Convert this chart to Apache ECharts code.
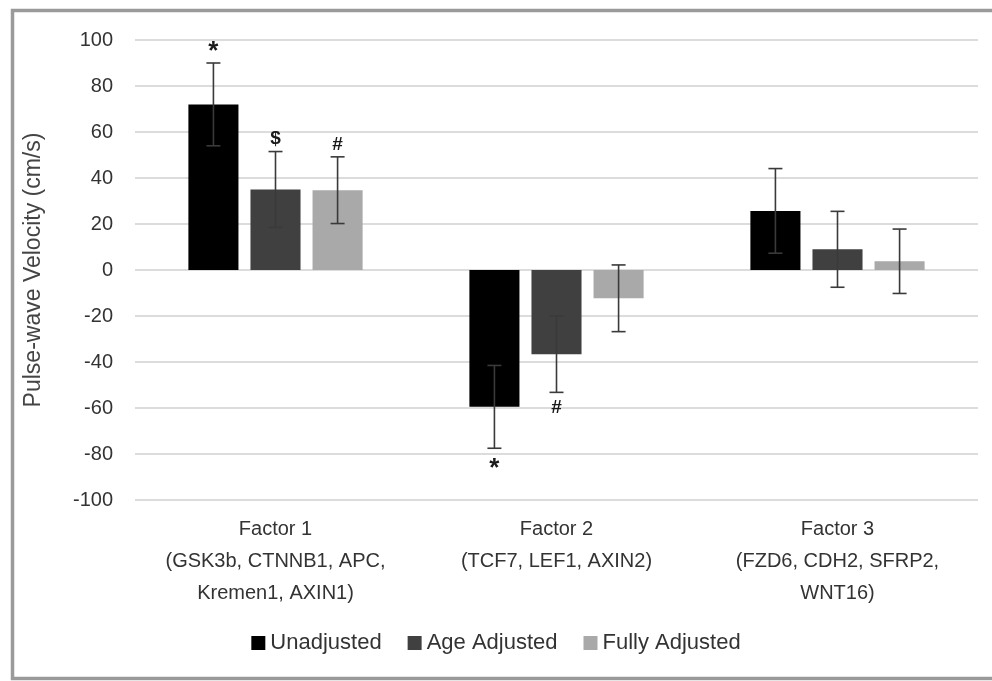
<!DOCTYPE html>
<html>
<head>
<meta charset="utf-8">
<script src="https://cdn.jsdelivr.net/npm/echarts@6/dist/echarts.min.js"></script>
<style>
  html, body { margin: 0; padding: 0; background: #fff; }
  #main { width: 992px; height: 681px; }
</style>
</head>
<body>
<div id="main"></div>
<script>
var categories = [
  'Factor 1\n(GSK3b, CTNNB1, APC,\nKremen1, AXIN1)',
  'Factor 2\n(TCF7, LEF1, AXIN2)',
  'Factor 3\n(FZD6, CDH2, SFRP2,\nWNT16)'
];
var seriesNames = ['Unadjusted', 'Age Adjusted', 'Fully Adjusted'];
var unadjusted = [72, -59.5, 25.7];
var ageAdjusted = [35, -36.6, 9];
var fullyAdjusted = [34.7, -12.3, 3.8];
var unadjustedErr = [18, 18, 18.4];
var ageAdjustedErr = [16.5, 16.6, 16.5];
var fullyAdjustedErr = [14.5, 14.5, 14];
var unadjustedNotes = ['*', '*', ''];
var ageAdjustedNotes = ['$', '#', ''];
var fullyAdjustedNotes = ['#', '', ''];

var colors = ['#000000', '#404040', '#a9a9a9'];
var catGap = 0.38, barGap = 0.24;
var font = 'Liberation Sans, Arial, sans-serif';

function barSeries(idx, vals) {
  return {
    name: seriesNames[idx],
    type: 'bar',
    data: vals,
    barGap: (barGap * 100) + '%',
    barCategoryGap: (catGap * 100) + '%',
    itemStyle: { color: colors[idx] },
    z: 2
  };
}

// error bars + significance marks drawn on top of the bars
function errSeries(idx, vals, errs, notes) {
  return {
    name: seriesNames[idx] + ' err',
    type: 'custom',
    data: vals.map(function(v, i) { return [i, v, errs[i]]; }),
    encode: { x: 0, y: 1 },
    z: 5,
    silent: true,
    renderItem: function(params, api) {
      var ci = api.value(0), v = api.value(1), e = api.value(2);
      var bw = api.size([1, 0])[0];
      var w = bw * (1 - catGap) / (3 + 2 * barGap);
      var off = (idx - 1) * w * (1 + barGap);
      var hi = api.coord([ci, v + e]);
      var lo = api.coord([ci, v - e]);
      var x = hi[0] + off, cap = 7;
      var st = { stroke: '#3a3a3a', lineWidth: 1.6 };
      var kids = [
        { type: 'line', shape: { x1: x, y1: hi[1], x2: x, y2: lo[1] }, style: st },
        { type: 'line', shape: { x1: x - cap, y1: hi[1], x2: x + cap, y2: hi[1] }, style: st },
        { type: 'line', shape: { x1: x - cap, y1: lo[1], x2: x + cap, y2: lo[1] }, style: st }
      ];
      var note = notes[ci];
      if (note) {
        var up = v >= 0;
        var star = note === '*';
        kids.push({
          type: 'text',
          style: {
            text: note,
            x: x,
            y: up ? hi[1] - (star ? -2 : 3) : lo[1] + (star ? 8 : 6),
            align: 'center',
            verticalAlign: up ? 'bottom' : 'top',
            font: 'bold ' + (star ? 26 : 19) + 'px ' + font,
            fill: '#1a1a1a'
          }
        });
      }
      return { type: 'group', children: kids };
    }
  };
}

var chart = echarts.init(document.getElementById('main'));
chart.setOption({
  backgroundColor: '#fff',
  animation: false,
  textStyle: { fontFamily: font },
  graphic: [{
    type: 'rect',
    shape: { x: 12.5, y: 10.5, width: 1000, height: 668 },
    style: { fill: 'none', stroke: '#9a9a9a', lineWidth: 3.5 }
  }],
  grid: { left: 135, right: 14, top: 40, bottom: 181 },
  legend: {
    data: seriesNames,
    bottom: 22,
    left: 'center',
    itemWidth: 14,
    itemHeight: 14,
    itemGap: 26,
    icon: 'rect',
    textStyle: { fontSize: 22, color: '#333', fontFamily: font }
  },
  xAxis: {
    type: 'category',
    data: categories,
    axisLine: { show: false, onZero: false },
    axisTick: { show: false },
    axisLabel: {
      fontSize: 20,
      lineHeight: 32,
      color: '#333',
      margin: 13,
      interval: 0
    }
  },
  yAxis: {
    type: 'value',
    min: -100,
    max: 100,
    interval: 20,
    name: 'Pulse-wave Velocity (cm/s)',
    nameLocation: 'middle',
    nameGap: 90,
    nameTextStyle: { fontSize: 23, color: '#444', fontFamily: font },
    axisLine: { show: false },
    axisTick: { show: false },
    axisLabel: { fontSize: 20, color: '#333', margin: 22 },
    splitLine: { lineStyle: { color: '#d0d0d0', width: 1.5 } }
  },
  series: [
    barSeries(0, unadjusted),
    barSeries(1, ageAdjusted),
    barSeries(2, fullyAdjusted),
    errSeries(0, unadjusted, unadjustedErr, unadjustedNotes),
    errSeries(1, ageAdjusted, ageAdjustedErr, ageAdjustedNotes),
    errSeries(2, fullyAdjusted, fullyAdjustedErr, fullyAdjustedNotes)
  ]
});
</script>
</body>
</html>
